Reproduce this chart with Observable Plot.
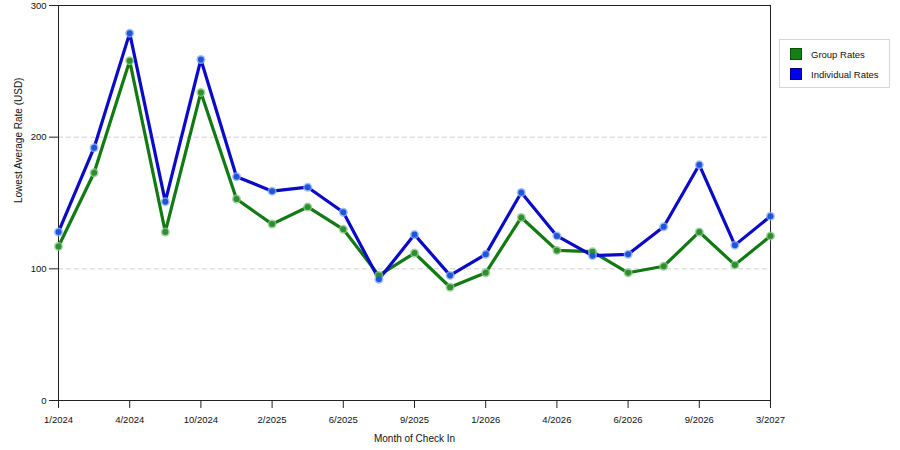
<!DOCTYPE html>
<html>
<head>
<meta charset="utf-8">
<script src="https://cdn.jsdelivr.net/npm/d3@7"></script>
<script src="https://cdn.jsdelivr.net/npm/@observablehq/plot@0.6"></script>
<style>
  html, body { margin: 0; padding: 0; background: #fff; }
  #wrap { position: relative; width: 900px; height: 450px; font-family: "Liberation Sans", Arial, sans-serif; }
  #legend { position: absolute; left: 779px; top: 39px; width: 109px; height: 47px; border: 1px solid #d6d6d6; background: #fff; font-size: 9.5px; color: #111; }
  .item { position: absolute; left: 10px; display: flex; align-items: center; }
  .sw { width: 12px; height: 12px; margin-right: 9px; box-sizing: border-box; }
</style>
</head>
<body>
<div id="wrap"><div id="legend"></div></div>
<script>
const months = ["1/2024","2/2024","4/2024","7/2024","10/2024","12/2024","2/2025","4/2025","6/2025","7/2025","9/2025","11/2025","1/2026","3/2026","4/2026","5/2026","6/2026","7/2026","9/2026","11/2026","3/2027"];
const tickLabels = ["1/2024","4/2024","10/2024","2/2025","6/2025","9/2025","1/2026","4/2026","6/2026","9/2026","3/2027"];
const groupRates = [117, 173, 258, 128, 234, 153, 134, 147, 130, 95, 112, 86, 97, 139, 114, 113, 97, 102, 128, 103, 125];
const individualRates = [128, 192, 279, 151, 259, 170, 159, 162, 143, 92, 126, 95, 111, 158, 125, 110, 111, 132, 179, 118, 140];
const seriesNames = ["Group Rates", "Individual Rates"];
const lineColors = ["#127a12", "#0a0ac8"];
const dotColors = ["#2f8f2f", "#1d55dd"];
const haloColors = ["#8cc88c", "#8fb0f0"];
const yTicks = [0, 100, 200, 300];
const gridValues = [100, 200];

const data = [];
months.forEach((m, i) => {
  data.push({month: m, rate: groupRates[i], series: seriesNames[0]});
  data.push({month: m, rate: individualRates[i], series: seriesNames[1]});
});

const chart = Plot.plot({
  width: 900,
  height: 450,
  marginLeft: 58,
  marginRight: 130,
  marginTop: 5,
  marginBottom: 50,
  style: {fontFamily: '"Liberation Sans", Arial, sans-serif', fontSize: "9.5px", color: "#111", background: "#fff"},
  x: {type: "point", domain: months, padding: 0, round: false, label: null},
  y: {domain: [0, 300], label: null},
  color: {domain: seriesNames, range: lineColors},
  marks: [
    Plot.ruleY(gridValues, {stroke: "#cfcfcf", strokeDasharray: "5,3"}),
    Plot.frame({stroke: "#222"}),
    Plot.axisX(tickLabels, {tickSize: 8, tickPadding: 8, stroke: "#222", fill: "#111"}),
    Plot.axisY(yTicks, {tickSize: 9, tickPadding: 3, stroke: "#222", fill: "#111"}),
    Plot.text(["Month of Check In"], {frameAnchor: "bottom", dy: 41, fontSize: 10, fill: "#111"}),
    Plot.text(["Lowest Average Rate (USD)"], {frameAnchor: "left", dx: -40, rotate: -90, fontSize: 10, fill: "#111"}),
    Plot.line(data, {x: "month", y: "rate", z: "series", stroke: "series", strokeWidth: 3.2, strokeLinejoin: "miter"}),
    Plot.dot(data, {x: "month", y: "rate", r: 4.5, fill: d => haloColors[seriesNames.indexOf(d.series)], fillOpacity: 0.8, stroke: "none"}),
    Plot.dot(data, {x: "month", y: "rate", r: 3, fill: d => dotColors[seriesNames.indexOf(d.series)], stroke: "none"})
  ]
});
document.getElementById("wrap").prepend(chart);

const legend = document.getElementById("legend");
const swatchColors = ["#138013", "#0000f0"];
const swatchBorders = ["#0b4f0b", "#00008a"];
seriesNames.forEach((name, i) => {
  const item = document.createElement("div");
  item.className = "item";
  item.style.top = (8 + i * 20) + "px";
  const sw = document.createElement("div");
  sw.className = "sw";
  sw.style.background = swatchColors[i];
  sw.style.border = "1px solid " + swatchBorders[i];
  const t = document.createElement("span");
  t.textContent = name;
  item.appendChild(sw);
  item.appendChild(t);
  legend.appendChild(item);
});
</script>
</body>
</html>
